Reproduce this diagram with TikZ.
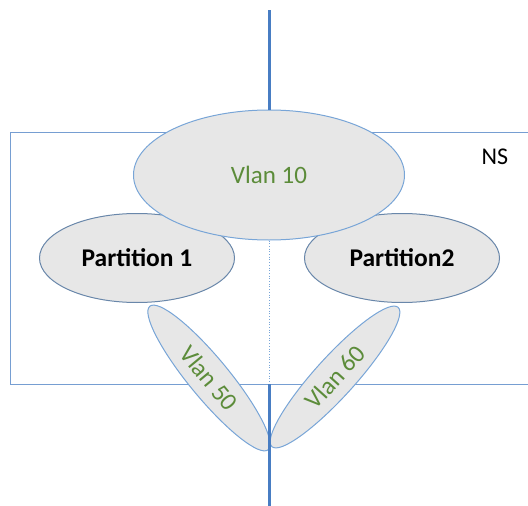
\documentclass[tikz,border=0pt]{standalone}
\usepackage{fontspec}
\setmainfont{Carlito}
\usetikzlibrary{shapes.geometric}
\definecolor{vgreen}{RGB}{92,140,58}
\definecolor{ellfill}{RGB}{231,231,231}
\definecolor{lblue}{RGB}{120,165,215}
\definecolor{pedge}{RGB}{105,135,170}
\definecolor{mainline}{RGB}{72,125,195}
\definecolor{rectline}{RGB}{118,158,210}
\tikzset{
  vlanell/.style={ellipse, draw=lblue, line width=1pt, fill=ellfill, inner sep=0pt, text=vgreen, font=\fontsize{25}{25}\selectfont},
  partell/.style={ellipse, draw=pedge, line width=1pt, fill=ellfill, inner sep=0pt, font=\bfseries\fontsize{25.5}{25.5}\selectfont, minimum width=195pt, minimum height=89pt},
  backbone/.style={draw=mainline, line width=3pt},
  hidden/.style={draw=lblue, line width=0.7pt, dotted}
}
\begin{document}
\begin{tikzpicture}[x=1pt,y=-1pt]
\useasboundingbox (0,0) rectangle (528,506);
\clip (0,0) rectangle (528,506);
% NS box
\draw[rectline, line width=1pt] (10,132) rectangle (540,384);
\node[font=\fontsize{24}{24}\selectfont] (ns) at (495,157) {NS};
% coordinates of backbone
\coordinate (top) at (269,10);
\coordinate (rbot) at (269,384);
\coordinate (bot) at (269,508);
% partitions
\node[partell] (p1) at (137,258) {Partition 1};
\node[partell] (p2) at (402,258) {Partition2};
% vlan 10
\node[vlanell, minimum width=271pt, minimum height=130pt] (v10) at (269,175) {Vlan 10};
\draw[backbone] (top) -- (v10.north);
\draw[hidden] (v10.south) -- (rbot);
% vlan 50 / 60
\node[vlanell, rotate=-50.5, minimum width=186pt, minimum height=40pt] (v50) at (209,378) {Vlan 50};
\node[vlanell, rotate=47.8, minimum width=188pt, minimum height=40pt] (v60) at (335,377) {Vlan 60};
\draw[backbone] (rbot) -- (bot);
\end{tikzpicture}
\end{document}
